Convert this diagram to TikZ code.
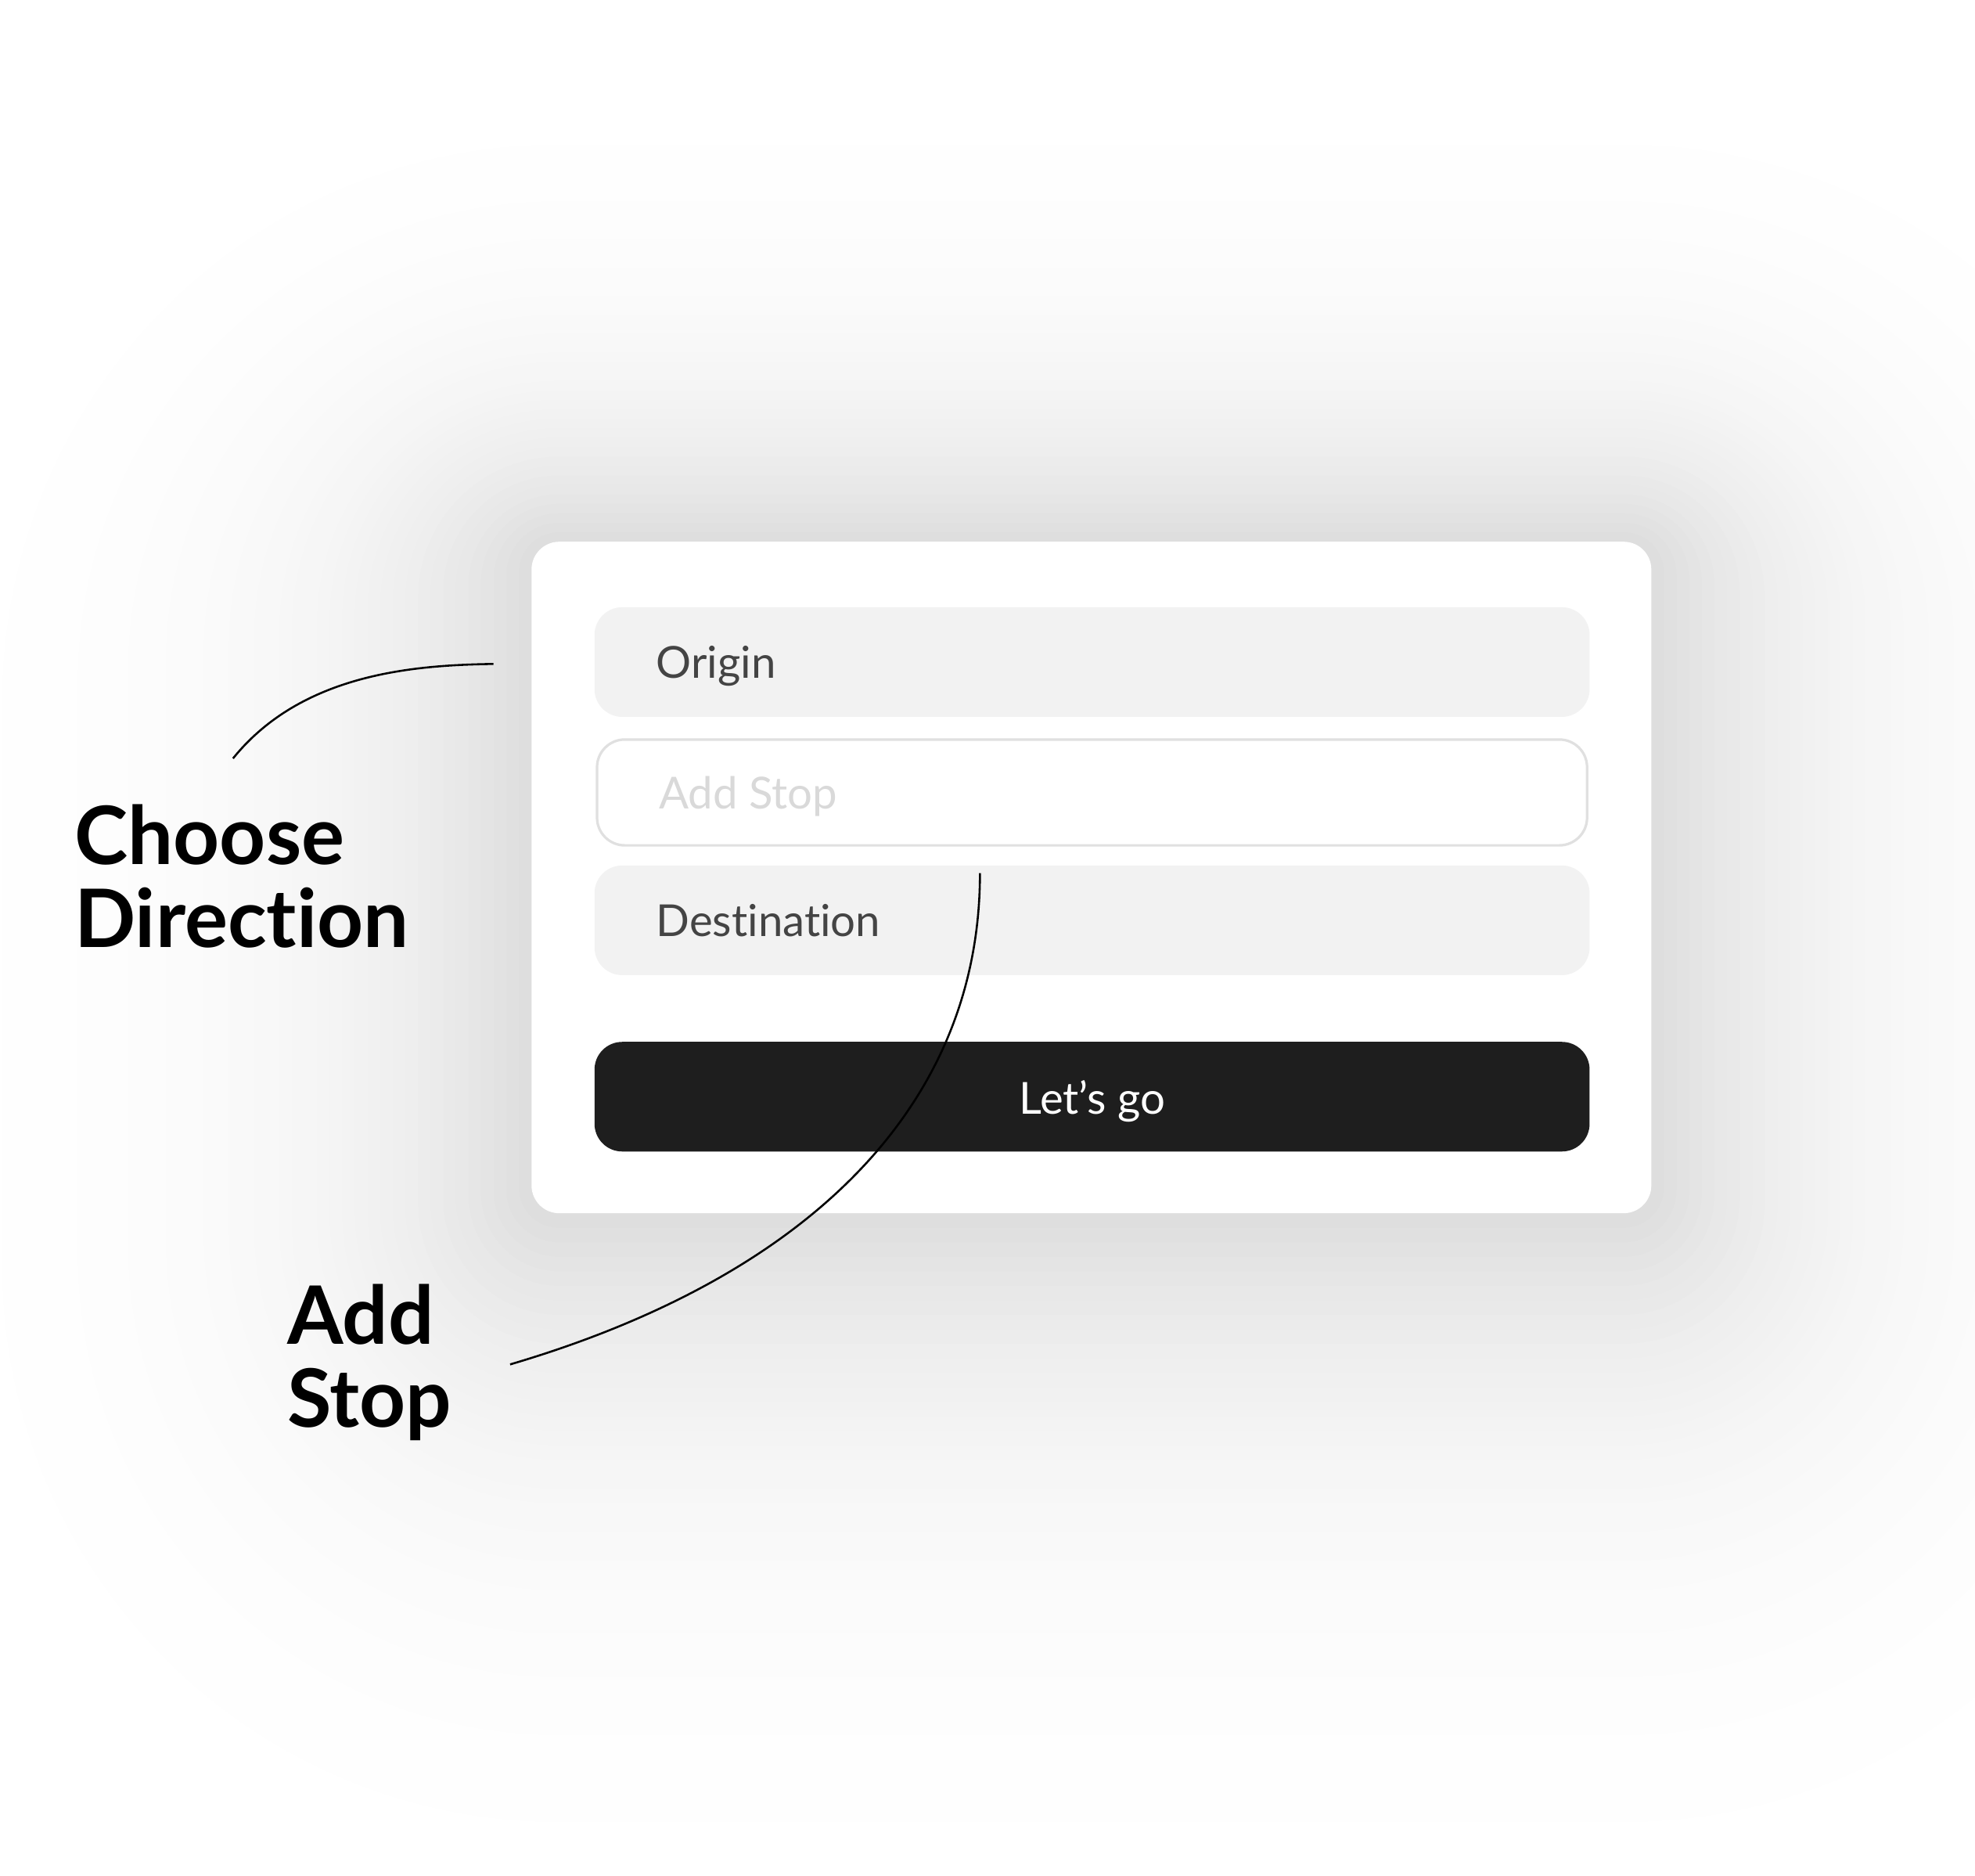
\documentclass[tikz,border=0pt]{standalone}
\usepackage{fontspec}
\setmainfont{Lato}[Ligatures=NoCommon]
\definecolor{fieldgray}{HTML}{F2F2F2}
\definecolor{fieldink}{HTML}{444444}
\definecolor{hintink}{HTML}{D9D9D9}
\definecolor{stopline}{HTML}{E0E0E0}
\definecolor{gobtn}{HTML}{1E1E1E}
\begin{document}
\begin{tikzpicture}[x=1pt,y=-1pt,
        field/.style={fill=fieldgray, rounded corners=22pt, minimum width=790pt, minimum height=87pt, inner sep=0pt},
        fieldtext/.style={anchor=base west, inner sep=0pt, font=\fontsize{35}{42}\selectfont, text=fieldink},
        callout/.style={anchor=base west, inner sep=0pt, font=\fontsize{64}{70}\selectfont\bfseries},
        leader/.style={line width=1.6pt}]
    \useasboundingbox (0,0) rectangle (1568,1488.5);
    \fill[white] (0,0) rectangle (1568,1488.5);
    \foreach \k [evaluate=\k as \ek using \k*10, evaluate=\k as \rk using 22+\k*10, evaluate=\k as \dk using {max(0.05,14.7*(exp(-\k/15)-0.0498))}] in {45,44,...,1}
        \fill[black!\dk, rounded corners=\rk pt] ({422-\ek},{430-0.75*\ek}) rectangle ({1311+\ek},{963+1.15*\ek});
    \node[fill=white, rounded corners=22pt, minimum width=889pt, minimum height=533pt, inner sep=0pt] (card) at (866.5,696.5) {};
    \node[field] (origin) at (867,525.5) {};
    \node[field, fill=white, draw=stopline, line width=2pt, minimum width=786pt, minimum height=84pt] (stop) at (867,629) {};
    \node[field] (destination) at (867,730.5) {};
    \node[field, fill=gobtn] (go) at (867,870.5) {};
    \node[fieldtext] (origin-text) at ([xshift=49pt,yshift=-13pt]origin.west) {Origin};
    \node[fieldtext, text=hintink] (stop-text) at ([xshift=50pt,yshift=-13pt]stop.west) {Add Stop};
    \node[fieldtext] (destination-text) at ([xshift=49pt,yshift=-13pt]destination.west) {Destination};
    \node[fieldtext, anchor=base, text=white] (go-text) at ([yshift=-14pt]go.center) {Let’s go};
    \node[callout] (choose) at (59,686) {Choose};
    \node[callout] (direction) at (59,752) {Direction};
    \node[callout] (add) at (228,1067) {Add};
    \node[callout] (stopword) at (228,1133) {Stop};
    \coordinate (dir-start) at ([xshift=-80pt,yshift=-1.5pt]origin.west);
    \coordinate (dir-end) at (185,602);
    \coordinate (stop-start) at ([xshift=-89pt,yshift=-21pt]stop.south);
    \coordinate (stop-end) at (405,1083);
    \draw[leader] (dir-start) .. controls (330,528) and (240,534) .. (dir-end);
    \draw[leader] (stop-start) .. controls (778,882) and (636,1015) .. (stop-end);
\end{tikzpicture}
\end{document}
